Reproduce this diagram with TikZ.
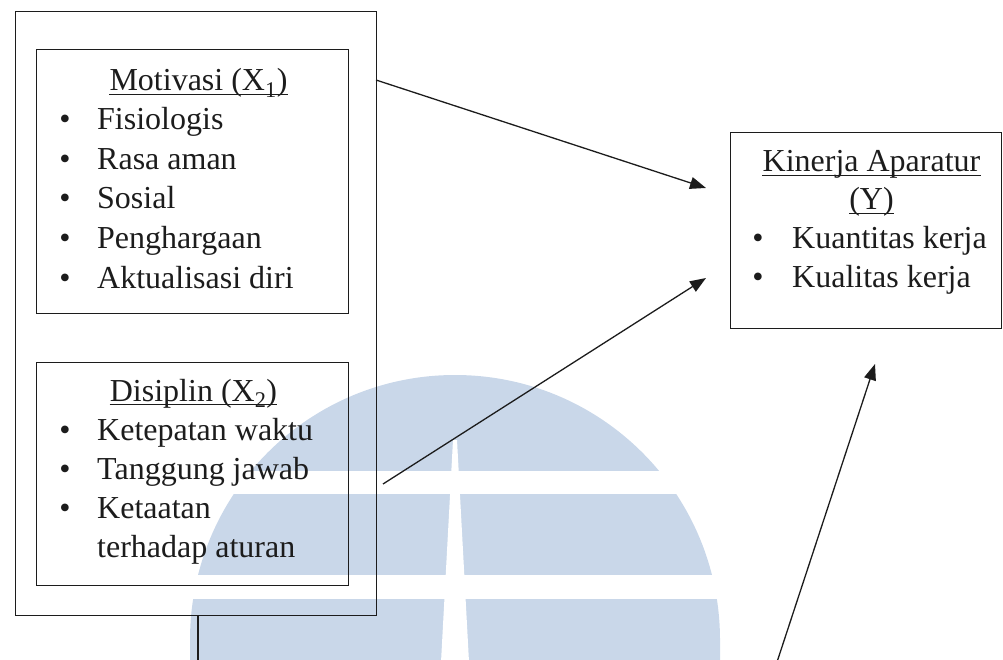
\documentclass[tikz,border=0pt]{standalone}
\usepackage{fontspec}
\setmainfont{Liberation Serif}
\usetikzlibrary{arrows.meta}
\definecolor{wm}{RGB}{201,215,233}
\definecolor{ink}{RGB}{28,28,28}
\begin{document}
\begin{tikzpicture}[x=1pt,y=-1pt,
  box/.style={draw=ink, line width=1.2pt, anchor=north west, inner sep=0pt},
  txt/.style={inner sep=0pt, font=\fontsize{32pt}{38pt}\selectfont, text=ink, anchor=base west},
  ttl/.style={txt, anchor=base},
  bul/.style={txt, anchor=base},
  ul/.style={draw=ink, line width=1.1pt},
  arr/.style={draw=ink, line width=1.3pt, -{Triangle[length=16pt,width=12pt]}},
  ln/.style={draw=ink, line width=1.3pt}]
\useasboundingbox (0,0) rectangle (1003,660);
% watermark
\fill[wm] (190,662) -- (190,640) arc[start angle=180, end angle=0, radius=265pt] -- (720,662) -- cycle;
\fill[white] (150,471) rectangle (760,494);
\fill[white] (150,575) rectangle (760,599);
\fill[white] (453,440) -- (457,440) -- (469,662) -- (441,662) -- cycle;
% boxes
\node[box, minimum width=361pt, minimum height=604pt] (outer) at (15,11) {};
\node[box, minimum width=312pt, minimum height=264pt] (mot) at (36,49) {};
\node[box, minimum width=312pt, minimum height=223pt] (dis) at (36,362) {};
\node[box, minimum width=271pt, minimum height=196pt] (kin) at (730,132) {};
% Motivasi
\node[ttl] (motT) at (198.5,91) {Motivasi (X\textsubscript{1})};
\draw[ul] ([yshift=-3.5pt]motT.base west) -- ([yshift=-3.5pt]motT.base east);
\node[bul] (mb1) at (65,130) {•}; \node[txt] (m1) at (97,130) {Fisiologis};
\node[bul] (mb2) at (65,169.5) {•}; \node[txt] (m2) at (97,169.5) {Rasa aman};
\node[bul] (mb3) at (65,209) {•}; \node[txt] (m3) at (97,209) {Sosial};
\node[bul] (mb4) at (65,248.5) {•}; \node[txt] (m4) at (97,248.5) {Penghargaan};
\node[bul] (mb5) at (65,288) {•}; \node[txt] (m5) at (97,288) {Aktualisasi diri};
% Disiplin
\node[ttl] (disT) at (193.5,401) {Disiplin (X\textsubscript{2})};
\draw[ul] ([yshift=-3.5pt]disT.base west) -- ([yshift=-3.5pt]disT.base east);
\node[bul] (db1) at (65,440) {•}; \node[txt] (d1) at (97,440) {Ketepatan waktu};
\node[bul] (db2) at (65,479) {•}; \node[txt] (d2) at (97,479) {Tanggung jawab};
\node[bul] (db3) at (65,518) {•}; \node[txt] (d3) at (97,518) {Ketaatan};
\node[txt] (d4) at (97,557) {terhadap aturan};
% Kinerja
\node[ttl] (kinT) at (871.5,172) {Kinerja Aparatur};
\draw[ul] ([yshift=-3.5pt]kinT.base west) -- ([yshift=-3.5pt]kinT.base east);
\node[ttl] (kinY) at (871.5,210) {(Y)};
\draw[ul] ([yshift=-3.5pt]kinY.base west) -- ([yshift=-3.5pt]kinY.base east);
\node[bul] (kb1) at (758,248) {•}; \node[txt] (k1) at (792,248) {Kuantitas kerja};
\node[bul] (kb2) at (758,287) {•}; \node[txt] (k2) at (792,287) {Kualitas kerja};
% connectors
\coordinate (a1s) at (376,80);  \coordinate (a1e) at (706,188);
\coordinate (a2s) at (383,484); \coordinate (a2e) at (706,278);
\coordinate (a3s) at (777,662); \coordinate (a3e) at (875,364);
\draw[arr] (a1s) -- (a1e);
\draw[arr] (a2s) -- (a2e);
\draw[arr] (a3s) -- (a3e);
\coordinate (p1) at (198,615); \coordinate (p2) at (198,662);
\draw[ln] (p1) -- (p2);
\end{tikzpicture}
\end{document}
